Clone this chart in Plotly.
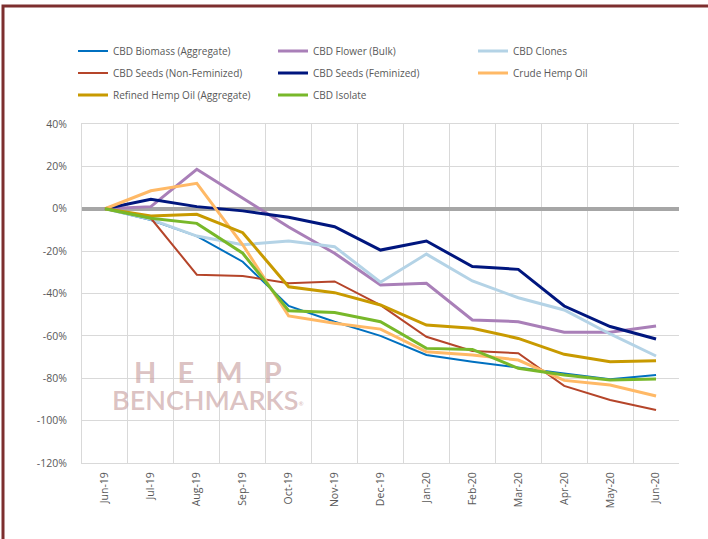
import plotly.graph_objects as go

months = ["Jun-19", "Jul-19", "Aug-19", "Sep-19", "Oct-19", "Nov-19", "Dec-19",
          "Jan-20", "Feb-20", "Mar-20", "Apr-20", "May-20", "Jun-20"]

biomass = [0, -5.3, -12.9, -25.0, -45.9, -53.3, -60.0, -69.0, -72.2, -74.8, -77.7, -80.5, -78.5]
flower = [0, 1.0, 18.6, 4.9, -8.6, -21.0, -36.0, -35.2, -52.5, -53.3, -58.3, -58.3, -55.3]
clones = [0, -5.0, -12.9, -17.0, -15.2, -17.9, -34.7, -21.4, -34.1, -42.0, -47.8, -59.1, -69.5]
seeds_nonfem = [0, -4.5, -31.1, -31.7, -35.2, -34.3, -45.5, -60.4, -67.1, -68.2, -83.6, -90.3, -95.0]
seeds_fem = [0, 4.5, 1.0, -1.0, -4.0, -8.5, -19.5, -15.2, -27.3, -28.6, -45.9, -55.6, -61.5]
crude_oil = [0, 8.5, 12.0, -17.0, -50.6, -54.0, -56.8, -67.5, -69.0, -71.4, -81.0, -83.2, -88.4]
refined_oil = [0, -3.4, -2.6, -11.3, -36.8, -39.6, -45.4, -54.9, -56.4, -61.2, -68.7, -72.2, -71.7]
isolate = [0, -4.5, -6.9, -21.0, -48.1, -49.0, -53.3, -65.9, -66.4, -75.3, -78.5, -80.8, -80.4]

y_tickvals = [40, 20, 0, -20, -40, -60, -80, -100, -120]
y_ticktext = ["40%", "20%", "0%", "-20%", "-40%", "-60%", "-80%", "-100%", "-120%"]

series = [
    ("CBD Biomass (Aggregate)", biomass, "#0070C0", 2, "legend"),
    ("CBD Flower (Bulk)", flower, "#A97FB8", 3, "legend"),
    ("CBD Clones", clones, "#B4D3E6", 3, "legend"),
    ("CBD Seeds (Non-Feminized)", seeds_nonfem, "#B5452A", 2, "legend2"),
    ("CBD Seeds (Feminized)", seeds_fem, "#00167E", 3, "legend2"),
    ("Crude Hemp Oil", crude_oil, "#FFB966", 3, "legend2"),
    ("Refined Hemp Oil (Aggregate)", refined_oil, "#C89A00", 3, "legend3"),
    ("CBD Isolate", isolate, "#78B82A", 3, "legend3"),
]

fig = go.Figure()
for name, vals, color, w, lg in series:
    fig.add_trace(go.Scatter(x=months, y=vals, name=name, mode="lines",
                             line=dict(color=color, width=w), legend=lg))

# plot area in pixels: x 82..679, y 124..463
L, R, T, B = 82, 679, 124, 463
PW, PH = R - L, B - T


def px(xp):
    return (xp - L) / PW


def py(yp):
    return (B - yp) / PH


font_family = "Open Sans"
legend_common = dict(orientation="h", entrywidth=155, entrywidthmode="pixels",
                     font=dict(family=font_family, size=10, color="#595959"),
                     bgcolor="rgba(0,0,0,0)", xanchor="left", yanchor="middle",
                     x=px(73), itemclick=False)

fig.update_layout(
    width=708, height=539,
    margin=dict(l=L, r=708 - R, t=T, b=539 - B, pad=0, autoexpand=False),
    paper_bgcolor="white", plot_bgcolor="white",
    font=dict(family=font_family, size=10, color="#595959"),
    legend=dict(**legend_common, y=py(51)),
    legend2=dict(**legend_common, y=py(73)),
    legend3=dict(**legend_common, y=py(95)),
    xaxis=dict(type="category", tickson="boundaries", showgrid=True,
               range=[-0.5, 12.5],
               gridcolor="#D9D9D9", gridwidth=1, tickangle=-90, ticks="",
               showline=True, linecolor="#D9D9D9", linewidth=1, mirror=True,
               tickfont=dict(family=font_family, size=10.5, color="#595959"),
               ticklabelstandoff=4),
    yaxis=dict(range=[-120, 40], tickvals=y_tickvals, ticktext=y_ticktext,
               showgrid=True, gridcolor="#D9D9D9", gridwidth=1,
               zeroline=True, zerolinecolor="#A6A6A6", zerolinewidth=4,
               showline=True, linecolor="#D9D9D9", linewidth=1, ticks="",
               tickfont=dict(family=font_family, size=10.5, color="#595959"),
               ticklabelstandoff=12),
    showlegend=True,
)

# outer frame (dark red border of the original image)
fig.add_shape(type="path", xref="paper", yref="paper",
              path=f"M {px(3)} {py(560)} L {px(3)} {py(6)} L {px(720)} {py(6)}",
              line=dict(color="#7D2E2E", width=3))

# watermark
fig.add_annotation(xref="paper", yref="paper", x=px(208), y=py(371),
                   text="H   E   M   P", showarrow=False,
                   font=dict(family="Lato", size=29, color="rgba(200,160,160,0.65)", weight="bold"),
                   xanchor="center", yanchor="middle")
fig.add_annotation(xref="paper", yref="paper", x=px(208), y=py(399),
                   text="BENCHMARKS<span style='font-size:9px'><sup>®</sup></span>",
                   showarrow=False,
                   font=dict(family="Lato", size=27, color="rgba(200,160,160,0.65)", weight=600),
                   xanchor="center", yanchor="middle")

fig.write_html("out.html", config={"displayModeBar": False},
               post_script="document.body.style.margin='0px';document.body.style.overflow='hidden';")
